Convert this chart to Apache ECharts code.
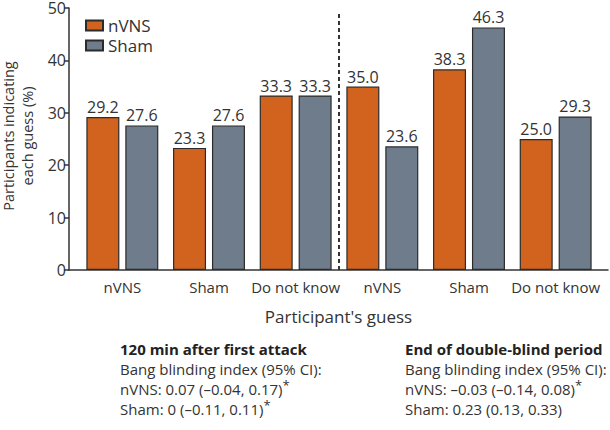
<!DOCTYPE html>
<html>
<head>
<meta charset="utf-8">
<script src="https://cdn.jsdelivr.net/npm/echarts@6/dist/echarts.min.js"></script>
<style>
  html, body { margin: 0; padding: 0; background: #fff; }
  #chartContainer { width: 610px; height: 430px; }
</style>
</head>
<body>
<div id="chartContainer"></div>
<script>
// data
const categories = ['nVNS', 'Sham', 'Do not know', 'nVNS', 'Sham', 'Do not know'];
const nvnsValues = [29.2, 23.3, 33.3, 35.0, 38.3, 25.0];
const shamValues = [27.6, 27.6, 33.3, 23.6, 46.3, 29.3];
const yTicks = [0, 10, 20, 30, 40, 50];

const font = '"Open Sans", "Noto Sans", sans-serif';
const textColor = '#333';
const orange = '#D2631F';
const gray = '#6F7C8B';

var myChart = echarts.init(document.getElementById('chartContainer'), null, { renderer: 'svg' });

function barSeries(name, values, color) {
    return {
        name: name,
        type: 'bar',
        xAxisIndex: 1,
        yAxisIndex: 1,
        data: values,
        barWidth: 33,
        barGap: '18%',
        itemStyle: { color: color, borderColor: '#2b2b2b', borderWidth: 1.2 },
        label: {
            show: true,
            position: 'top',
            distance: 2,
            color: textColor,
            fontFamily: font,
            fontSize: 16,
            formatter: p => p.value.toFixed(1)
        }
    };
}

const rich = {
    b: { fontSize: 15, fontWeight: 'bold', fontFamily: font, fill: '#222', lineHeight: 20 },
    n: { fontSize: 15, fontFamily: font, fill: textColor, lineHeight: 20 },
    s: { fontSize: 13, fontFamily: font, fill: textColor, verticalAlign: 'top', lineHeight: 9 }
};

let options = {
    animation: false,
    textStyle: { fontFamily: font },
    legend: {
        orient: 'vertical',
        left: 80,
        top: 12,
        itemWidth: 17,
        itemHeight: 10,
        itemGap: 3,
        textStyle: { fontSize: 17, color: textColor, fontFamily: font },
        data: [{ name: 'nVNS', icon: 'rect' }, { name: 'Sham', icon: 'rect' }]
    },
    grid: [
        // frame grid: carries the visible axis lines and y ticks
        { left: 69, right: 2, top: 8, bottom: 160, outerBoundsMode: 'none', containLabel: false },
        // data grid
        { left: 79, right: 11, top: 8, bottom: 160, outerBoundsMode: 'none', containLabel: false }
    ],
    xAxis: [
        {
            type: 'value', gridIndex: 0, min: 0, max: 1,
            axisLine: { show: true, lineStyle: { color: textColor, width: 1.5 } },
            axisTick: { show: false }, axisLabel: { show: false }, splitLine: { show: false },
            name: "Participant's guess",
            nameLocation: 'middle',
            nameGap: 38,
            nameTextStyle: { fontSize: 17, color: textColor, fontFamily: font }
        },
        {
            type: 'category', gridIndex: 1, data: categories,
            axisLine: { show: false }, axisTick: { show: false },
            axisLabel: { fontSize: 15, color: textColor, margin: 9, fontFamily: font, interval: 0 }
        },
        {
            type: 'value', gridIndex: 1, min: -0.5, max: 5.5, show: false
        }
    ],
    yAxis: [
        {
            type: 'value', gridIndex: 0, min: yTicks[0], max: yTicks[yTicks.length - 1], interval: 10,
            axisLine: { show: true, lineStyle: { color: textColor, width: 1.5 } },
            axisTick: { show: true, length: 5, lineStyle: { color: textColor, width: 1.5 } },
            axisLabel: { fontSize: 16, color: textColor, margin: 3, fontFamily: font },
            splitLine: { show: false },
            name: 'Participants indicating\neach guess (%)',
            nameLocation: 'middle',
            nameGap: 24,
            nameTextStyle: { fontSize: 14.5, color: textColor, fontFamily: font, lineHeight: 19, padding: [0, 0, 0, 6] }
        },
        {
            type: 'value', gridIndex: 1, min: 0, max: 50, interval: 10, show: false
        }
    ],
    series: [
        barSeries('nVNS', nvnsValues, orange),
        barSeries('Sham', shamValues, gray),
        {
            type: 'scatter',
            xAxisIndex: 2,
            yAxisIndex: 1,
            data: [],
            silent: true,
            markLine: {
                symbol: 'none',
                silent: true,
                label: { show: false },
                lineStyle: { color: textColor, width: 2, type: [4, 3] },
                data: [[{ coord: [2.5, 0] }, { coord: [2.5, 49] }]]
            }
        }
    ],
    graphic: [
        {
            type: 'text', left: 120, top: 341,
            style: {
                text: '{b|120 min after first attack}\n{n|Bang blinding index (95% CI):}\n{n|nVNS: 0.07 (–0.04, 0.17)}{s|*}\n{n|Sham: 0 (–0.11, 0.11)}{s|*}',
                rich: rich
            }
        },
        {
            type: 'text', left: 405, top: 341,
            style: {
                text: '{b|End of double-blind period}\n{n|Bang blinding index (95% CI):}\n{n|nVNS: –0.03 (–0.14, 0.08)}{s|*}\n{n|Sham: 0.23 (0.13, 0.33)}',
                rich: rich
            }
        }
    ]
};

myChart.setOption(options);
</script>
</body>
</html>
